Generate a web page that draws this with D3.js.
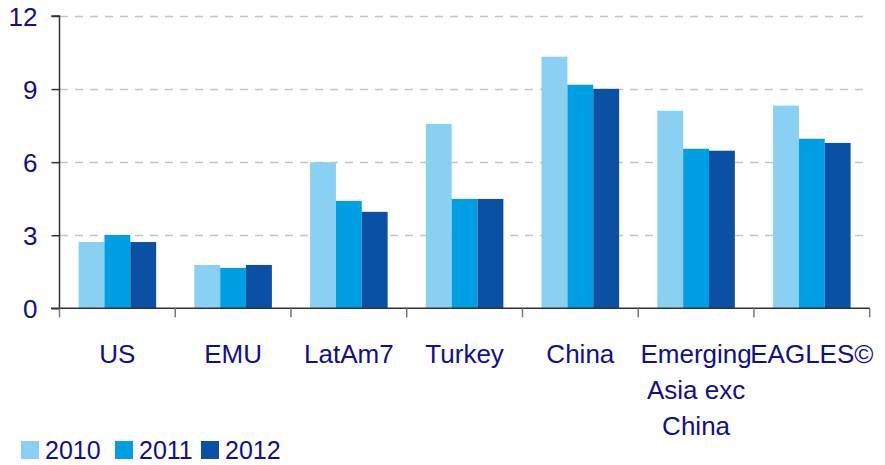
<!DOCTYPE html>
<html>
<head>
<meta charset="utf-8">
<script src="https://cdnjs.cloudflare.com/ajax/libs/d3/7.8.5/d3.min.js"></script>
<style>
  body { margin: 0; background: #fff; }
  text { font-family: "Liberation Sans", Arial, sans-serif; fill: #10108a; }
</style>
</head>
<body>
<svg id="chart"></svg>
<script>
// chart data
var categories = ["US", "EMU", "LatAm7", "Turkey", "China", "Emerging Asia exc China", "EAGLES©"];
var categoryLines = [["US"], ["EMU"], ["LatAm7"], ["Turkey"], ["China"], ["Emerging", "Asia exc", "China"], ["EAGLES©"]];
var years = ["2010", "2011", "2012"];
var values2010 = [2.72, 1.78, 6.0, 7.57, 10.33, 8.11, 8.32];
var values2011 = [3.01, 1.66, 4.41, 4.49, 9.18, 6.55, 6.96];
var values2012 = [2.72, 1.78, 3.96, 4.49, 9.01, 6.47, 6.79];
var yTicks = [0, 3, 6, 9, 12];

var colors = ["#89d0f2", "#009fe3", "#0a50a4"];
var series = [values2010, values2011, values2012];

var width = 885;
var height = 465;
var fontSize = 25;

// The svg
var svg = d3.select("#chart")
  .attr("width", width)
  .attr("height", height);

// scales
var x0 = d3.scaleBand()
  .domain(categories)
  .range([59.5, 869.7])
  .paddingInner(0.33)
  .paddingOuter(0.165);

var x1 = d3.scaleBand()
  .domain(years)
  .range([0, x0.bandwidth()]);

var y = d3.scaleLinear()
  .domain([0, 12])
  .range([308.3, 16]);

// gridlines (dashed, skip zero)
svg.append("g")
  .selectAll("line")
  .data(yTicks.filter(function (d) { return d > 0; }))
  .enter()
  .append("line")
  .attr("x1", 60)
  .attr("x2", 867)
  .attr("y1", function (d) { return Math.round(y(d)) + 0.5; })
  .attr("y2", function (d) { return Math.round(y(d)) + 0.5; })
  .attr("stroke", "#c4c4c4")
  .attr("stroke-width", 1.5)
  .attr("stroke-dasharray", "8,7");

// bars
var rows = categories.map(function (c, i) {
  return years.map(function (yr, j) { return { cat: c, year: yr, value: series[j][i], idx: j }; });
});

svg.append("g")
  .selectAll("g")
  .data(rows)
  .enter()
  .append("g")
  .attr("transform", function (d, i) { return "translate(" + x0(categories[i]) + ",0)"; })
  .selectAll("rect")
  .data(function (d) { return d; })
  .enter()
  .append("rect")
  .attr("x", function (d) { return x1(d.year); })
  .attr("width", x1.bandwidth())
  .attr("y", function (d) { return y(d.value); })
  .attr("height", function (d) { return y(0) - y(d.value); })
  .attr("fill", function (d) { return colors[d.idx]; });

// y axis
var yAxis = svg.append("g")
  .attr("transform", "translate(59.5,0)")
  .call(d3.axisLeft(y).tickValues(yTicks).tickSize(8).tickPadding(14));
yAxis.select(".domain").attr("stroke", "#333").attr("stroke-width", 1.5)
  .attr("d", "M-8," + y(12) + "H0V" + y(0));
yAxis.selectAll(".tick line").attr("stroke", "#333").attr("stroke-width", 1.5);
yAxis.selectAll(".tick text")
  .attr("font-size", 26)
  .attr("font-family", "Liberation Sans, Arial, sans-serif")
  .attr("fill", "#10108a")
  .attr("dy", "0.36em");

// x axis line
svg.append("line")
  .attr("x1", 51)
  .attr("x2", 870)
  .attr("y1", y(0))
  .attr("y2", y(0))
  .attr("stroke", "#333")
  .attr("stroke-width", 1.5);

// x axis ticks at band boundaries
var boundaries = categories.map(function (c) { return x0(c) - x0.step() * x0.paddingInner() / 2; });
boundaries.push(869.7);
svg.append("g")
  .selectAll("line")
  .data(boundaries)
  .enter()
  .append("line")
  .attr("x1", function (d) { return d; })
  .attr("x2", function (d) { return d; })
  .attr("y1", y(0))
  .attr("y2", y(0) + 9)
  .attr("stroke", "#777")
  .attr("stroke-width", 1.5);

// category labels
var labels = svg.append("g")
  .selectAll("text")
  .data(categoryLines)
  .enter()
  .append("text")
  .attr("text-anchor", "middle")
  .attr("font-size", 26)
  .attr("transform", function (d, i) { return "translate(" + (x0(categories[i]) + x0.bandwidth() / 2) + ",363)"; });

labels.selectAll("tspan")
  .data(function (d) { return d; })
  .enter()
  .append("tspan")
  .attr("x", 0)
  .attr("y", function (d, i) { return i * 36; })
  .text(function (d) { return d; });

// legend (nudged up a little so the text box stays inside the frame)
var legendX = [21, 115, 201];
var legend = svg.append("g")
  .selectAll("g")
  .data(years)
  .enter()
  .append("g")
  .attr("transform", function (d, i) { return "translate(" + legendX[i] + ",441)"; });

legend.append("rect")
  .attr("width", 18)
  .attr("height", 18)
  .attr("fill", function (d, i) { return colors[i]; });

legend.append("text")
  .attr("x", 24)
  .attr("y", 18)
  .attr("font-size", fontSize)
  .text(function (d) { return d; });
</script>
</body>
</html>
